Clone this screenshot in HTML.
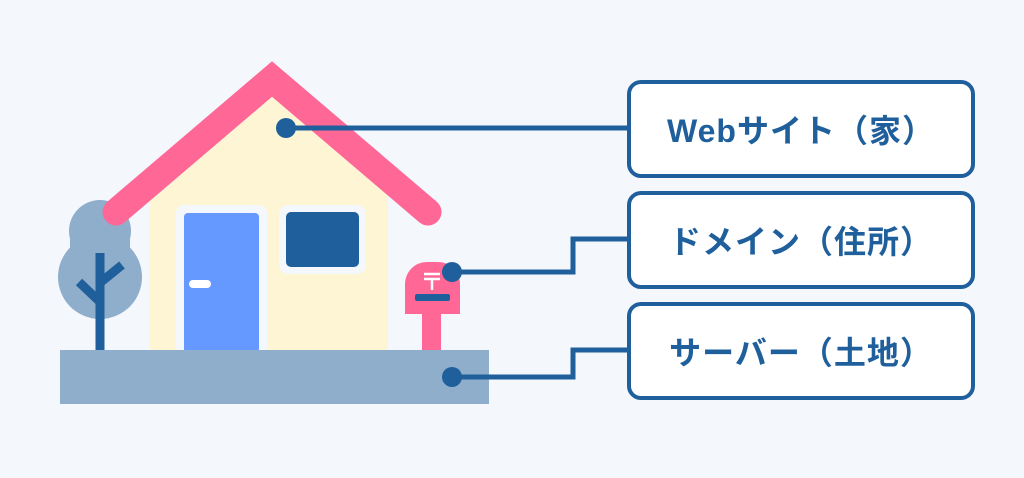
<!DOCTYPE html>
<html><head><meta charset="utf-8"><style>
html,body{margin:0;padding:0;background:#f4f7fc;}
body{width:1024px;height:478px;overflow:hidden;position:relative;}
.box{position:absolute;left:627px;width:340px;height:90px;border:4px solid #1f5f9b;border-radius:14px;background:#fff;box-sizing:content-box;
display:flex;align-items:center;justify-content:center;font-family:"Liberation Sans","Noto Sans CJK JP",sans-serif;font-weight:bold;font-size:32px;color:#1f5f9b;letter-spacing:1px;}
</style></head><body>
<svg width="1024" height="478" style="position:absolute;left:0;top:0">
<g fill="#8faecb">
<circle cx="100" cy="231" r="31"/>
<circle cx="100" cy="277" r="42"/>
<rect x="70" y="235" width="60" height="30"/>
</g>
<g stroke="#1f5f9b" stroke-width="9" fill="none">
<line x1="100" y1="253" x2="100" y2="350"/>
<line x1="79" y1="282" x2="100" y2="302"/>
<line x1="122" y1="265" x2="101" y2="282"/>
</g>
<polygon points="150,190 272,92 388,190 388,350 150,350" fill="#fdf5d4"/>
<polyline points="116,212 272,79 428,212" fill="none" stroke="#ff6796" stroke-width="27" stroke-linecap="round" stroke-linejoin="miter"/>
<rect x="176" y="205" width="91" height="150" rx="8" fill="#f4f7fc"/>
<rect x="184" y="213" width="75" height="140" rx="4" fill="#6699ff"/>
<rect x="189" y="280" width="22" height="8" rx="4" fill="#fff"/>
<rect x="279" y="205" width="87" height="69" rx="9" fill="#f4f7fc"/>
<rect x="286" y="212" width="73" height="55" rx="5" fill="#1f5f9b"/>
<path d="M405,314 V284 A22,22 0 0 1 427,262 H438 A22,22 0 0 1 460,284 V314 Z" fill="#ff6796"/>
<rect x="422" y="312" width="19" height="40" fill="#ff6796"/>
<rect x="415" y="294" width="35" height="7" rx="2" fill="#1f5f9b"/>
<g stroke="#fff" stroke-width="2.5"><line x1="424" y1="274" x2="440" y2="274"/><line x1="424" y1="279" x2="440" y2="279"/><line x1="432" y1="279" x2="432" y2="290"/></g>
<rect x="60" y="350" width="429" height="54" fill="#8faecb"/>
<g stroke="#1f5f9b" stroke-width="5" fill="none">
<line x1="286" y1="128" x2="628" y2="128"/>
<polyline points="452,272 573,272 573,239 628,239"/>
<polyline points="452,377 573,377 573,350 628,350"/>
</g>
<g fill="#1f5f9b">
<circle cx="286" cy="128" r="10"/>
<circle cx="452" cy="272" r="10"/>
<circle cx="452" cy="377" r="10"/>
</g>
</svg>
<div class="box" style="top:80px">Webサイト（家）</div>
<div class="box" style="top:191px">ドメイン（住所）</div>
<div class="box" style="top:302px">サーバー（土地）</div>
</body></html>
